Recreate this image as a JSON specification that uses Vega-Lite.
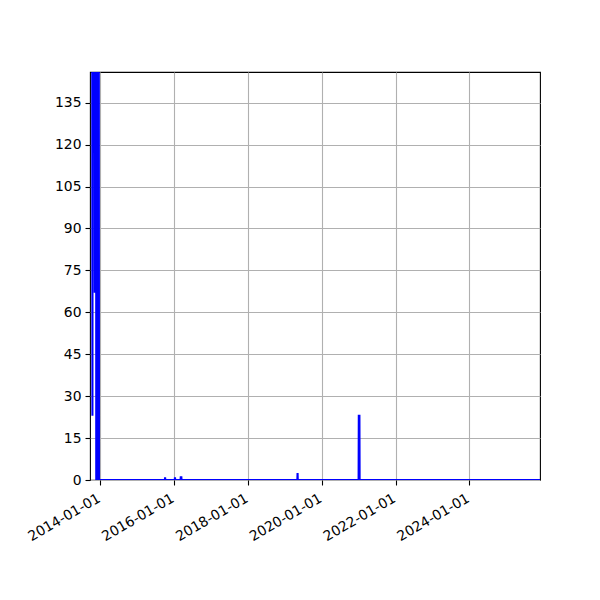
{
  "$schema": "https://vega.github.io/schema/vega-lite/v6.json",
  "width": 450,
  "height": 408,
  "autosize": "none",
  "padding": {"left": 90, "top": 72, "right": 60, "bottom": 120},
  "background": "white",
  "config": {
    "font": "DejaVu Sans",
    "view": {"stroke": "black", "strokeWidth": 1.1},
    "axis": {
      "labelFont": "DejaVu Sans",
      "labelFontSize": 13.9,
      "labelColor": "black",
      "tickColor": "black",
      "tickSize": 5,
      "tickWidth": 1.1,
      "labelPadding": 4,
      "labelOverlap": false,
      "labelFlush": false,
      "domain": false,
      "gridColor": "#b0b0b0",
      "gridWidth": 1.1,
      "title": null
    }
  },
  "data": {
    "values": [
      {"date": "2013-09-05", "count": 300},
      {"date": "2013-10-10", "count": 300},
      {"date": "2013-10-14", "count": 23},
      {"date": "2013-10-18", "count": 300},
      {"date": "2013-11-03", "count": 300},
      {"date": "2013-11-06", "count": 67},
      {"date": "2013-11-09", "count": 300},
      {"date": "2013-11-13", "count": 300},
      {"date": "2013-11-16", "count": 125},
      {"date": "2013-11-19", "count": 300},
      {"date": "2013-11-21", "count": 0},
      {"date": "2013-11-24", "count": 220},
      {"date": "2013-11-27", "count": 10},
      {"date": "2013-11-30", "count": 300},
      {"date": "2013-12-03", "count": 0},
      {"date": "2013-12-06", "count": 260},
      {"date": "2013-12-09", "count": 5},
      {"date": "2013-12-12", "count": 200},
      {"date": "2013-12-15", "count": 250},
      {"date": "2013-12-18", "count": 0},
      {"date": "2015-10-01", "count": 0},
      {"date": "2015-10-03", "count": 1},
      {"date": "2015-10-05", "count": 0},
      {"date": "2016-01-07", "count": 0},
      {"date": "2016-01-09", "count": 1},
      {"date": "2016-01-11", "count": 0},
      {"date": "2016-03-04", "count": 0},
      {"date": "2016-03-06", "count": 1},
      {"date": "2016-03-12", "count": 1},
      {"date": "2016-03-14", "count": 0},
      {"date": "2019-05-04", "count": 0},
      {"date": "2019-05-06", "count": 2.5},
      {"date": "2019-05-08", "count": 0},
      {"date": "2020-12-30", "count": 0},
      {"date": "2021-01-01", "count": 23},
      {"date": "2021-01-07", "count": 23},
      {"date": "2021-01-09", "count": 0},
      {"date": "2026-03-01", "count": 0}
    ]
  },
  "mark": {"type": "line", "color": "#0000ff", "strokeWidth": 2.1, "clip": true, "interpolate": "linear"},
  "encoding": {
    "x": {
      "field": "date",
      "type": "temporal",
      "scale": {"type": "utc", "domain": [{"year": 2013, "month": 9, "date": 20, "utc": true}, {"year": 2025, "month": 11, "date": 29, "utc": true}]},
      "axis": {
        "values": [
          {"year": 2014, "month": 1, "date": 1, "utc": true},
          {"year": 2016, "month": 1, "date": 1, "utc": true},
          {"year": 2018, "month": 1, "date": 1, "utc": true},
          {"year": 2020, "month": 1, "date": 1, "utc": true},
          {"year": 2022, "month": 1, "date": 1, "utc": true},
          {"year": 2024, "month": 1, "date": 1, "utc": true}
        ],
        "labelExpr": "utcFormat(datum.value, '%Y-%m-%d')",
        "labelAngle": -30,
        "labelAlign": "right",
        "labelBaseline": "top",
        "labelPadding": 6,
        "labelOffset": -5,
        "grid": true
      }
    },
    "y": {
      "field": "count",
      "type": "quantitative",
      "scale": {"domain": [0, 146], "nice": false, "zero": true},
      "axis": {
        "values": [0, 15, 30, 45, 60, 75, 90, 105, 120, 135],
        "grid": true
      }
    }
  }
}
